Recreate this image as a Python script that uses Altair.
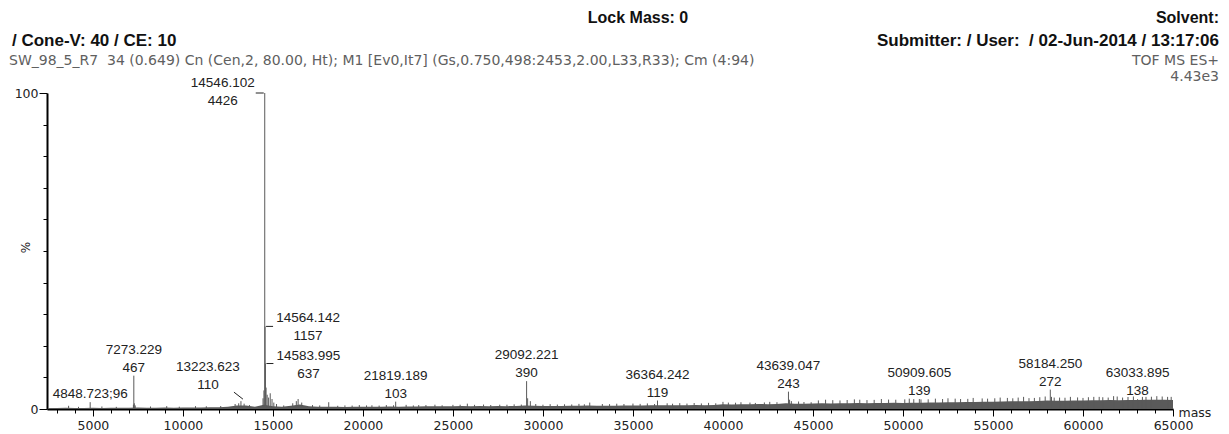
import altair as alt
import pandas as pd

BASE_PEAK = 4426  # intensity of the base peak (100 %)

# labelled peaks
peak_mass = [4848.723, 7273.229, 13223.623, 14546.102, 14564.142, 14583.995,
             21819.189, 29092.221, 36364.242, 43639.047, 50909.605, 58184.250, 63033.895]
peak_int = [96, 467, 110, 4426, 1157, 637, 103, 390, 119, 243, 139, 272, 138]

# baseline noise level, sampled every 500 Da from 2500 to 65000 (counts)
noise_mass = list(range(2500, 65001, 500))
noise_int = [12, 14, 16, 14, 15, 17, 14, 16, 18, 17,
             20, 16, 18, 20, 19, 21, 22, 20, 24, 26,
             32, 50, 48, 30, 60, 40, 30, 45, 62, 38,
             32, 30, 33, 29, 31, 30, 32, 31, 34, 33,
             34, 36, 38, 37, 40, 38, 42, 40, 41, 39,
             42, 40, 43, 50, 44, 41, 43, 42, 44, 46,
             48, 45, 47, 46, 49, 48, 50, 52, 54, 51,
             53, 52, 55, 54, 56, 66, 64, 67, 66, 69,
             68, 70, 80, 74, 74, 77, 79, 76, 80, 79,
             83, 82, 84, 83, 86, 85, 89, 88, 91, 92,
             96, 94, 97, 98, 101, 103, 106, 108, 110, 109,
             113, 118, 115, 116, 119, 120, 121, 122, 125, 124,
             126, 127, 128, 131, 130, 127]

# small unlabelled spikes above the noise (counts)
spike_mass = [3650, 4200, 5500, 6300, 7250, 7300, 7350, 8200, 9100, 9800,
              10700, 11300, 12100, 12900, 13100, 13400, 13700, 14450, 14500, 14620,
              14680, 14760, 14850, 14950, 15050, 15200, 15600, 16100, 16300, 16400,
              16600, 17200, 17600, 18100, 18600, 19000, 19400, 19800, 20200, 20500,
              20900, 21300, 21700, 22400, 22800, 23100, 23500, 24000, 24400, 25000,
              25400, 25800, 26200, 26700, 27100, 27600, 28000, 28400, 28800, 29150,
              29300, 29600, 30000, 30400, 30800, 31200, 31600, 32000, 32300, 32600,
              33300, 33700, 34100, 34500, 35000, 35400, 35800, 36200, 36900, 37200,
              37600, 38000, 38400, 38800, 39200, 39600, 40000, 40300, 40700, 41000,
              41500, 41800, 42300, 42600, 43000, 43700, 43800, 44200, 44500, 44900,
              45300, 45700, 46100, 46500, 46900, 47300, 47600, 48000, 48400, 48800,
              49200, 49600, 50100, 50350, 50600, 51000, 51400, 51800, 52200, 52500,
              52900, 53200, 53600, 53900, 54400, 54700, 55100, 55400, 55800, 56100,
              56400, 56700, 57000, 57300, 57600, 57900, 58250, 58400, 58700, 59000,
              59300, 59700, 60000, 60300, 60600, 60900, 61100, 61400, 61700, 61900,
              62200, 62500, 62800, 63300, 63500, 63800, 64100, 64400, 64700, 64900]
spike_int = [45, 30, 35, 30, 60, 80, 50, 35, 40, 32,
             40, 38, 42, 70, 80, 75, 55, 150, 260, 300,
             200, 160, 220, 140, 90, 70, 50, 80, 110, 140,
             90, 55, 50, 95, 45, 50, 48, 55, 50, 52,
             48, 55, 52, 58, 50, 55, 55, 60, 52, 58,
             60, 75, 58, 62, 56, 60, 60, 65, 62, 150,
             110, 70, 60, 68, 62, 66, 64, 72, 66, 90,
             70, 68, 74, 70, 76, 72, 78, 70, 80, 74,
             82, 76, 84, 78, 86, 80, 100, 90, 88, 95,
             90, 85, 92, 100, 95, 130, 110, 105, 98, 95,
             120, 130, 124, 120, 126, 135, 130, 125, 128, 140,
             132, 130, 135, 145, 138, 135, 136, 145, 140, 150,
             145, 140, 142, 155, 148, 145, 150, 160, 155, 150,
             160, 170, 152, 155, 165, 175, 170, 160, 160, 158,
             170, 162, 155, 165, 170, 170, 165, 160, 180, 175,
             160, 168, 175, 170, 170, 172, 180, 175, 170, 170]

FONT = "Liberation Sans"
AXFONT = "DejaVu Sans"
GREY = "#5a5a5a"

def pct(vals):
    return [v / BASE_PEAK * 100 for v in vals]

noise_df = pd.DataFrame({"mass": noise_mass, "pct": pct(noise_int)})
spike_df = pd.DataFrame({"mass": spike_mass, "pct": pct(spike_int)})
peak_df = pd.DataFrame({"mass": peak_mass, "inten": peak_int, "pct": pct(peak_int)})
peak_df["label"] = [f"{m:.3f}\n{i}" for m, i in zip(peak_mass, peak_int)]
peak_df.loc[peak_df["mass"] == 4848.723, "label"] = "4848.723;96"

x_ticks = list(range(3000, 65001, 1000))
y_ticks = list(range(0, 101, 10))

x_enc = alt.X(
    "mass:Q",
    scale=alt.Scale(domain=[2450, 65000], nice=False, zero=False),
    axis=alt.Axis(
        values=x_ticks, format="d", labelFlush=False, labelOverlap=False,
        labelExpr="datum.value % 5000 == 0 ? datum.label : ''",
        tickSize={"condition": {"test": "datum.value % 5000 == 0", "value": 7}, "value": 4},
        tickColor="black", domainColor="black", domainWidth=2,
        labelFont=AXFONT, labelFontSize=12.5, labelColor="#222", labelPadding=3,
        title="mass", titleFont=AXFONT, titleFontSize=12.5, titleFontWeight="normal",
        titleColor="#222", titleX=1131, titleY=3, titleAlign="left",
        titleBaseline="middle", titleAngle=0, grid=False,
    ),
)
y_enc = alt.Y(
    "pct:Q",
    scale=alt.Scale(domain=[0, 100], nice=False),
    axis=alt.Axis(
        values=y_ticks, labelExpr="datum.value == 0 || datum.value == 100 ? datum.label : ''",
        tickSize={"condition": {"test": "datum.value == 0 || datum.value == 100", "value": 8}, "value": 4},
        tickColor="black", domainColor="black", domainWidth=2, labelOverlap=False,
        labelFont=AXFONT, labelFontSize=12.5, labelColor="#222", labelPadding=1,
        title="%", titleFont=AXFONT, titleFontSize=12, titleFontWeight="normal",
        titleColor="#222", titleX=-22, titleY=154, titleAngle=270, titleAlign="center",
        titleBaseline="middle", grid=False,
    ),
)

noise = alt.Chart(noise_df).mark_area(color=GREY, interpolate="linear").encode(x=x_enc, y=y_enc)
spikes = alt.Chart(spike_df).mark_rule(color=GREY, strokeWidth=1).encode(
    x=x_enc, y=y_enc, y2=alt.datum(0))
peaks = alt.Chart(peak_df).mark_rule(color=GREY, strokeWidth=1).encode(
    x=x_enc, y=y_enc, y2=alt.datum(0))

lab_common = dict(font=FONT, fontSize=13.5, color="#222", lineBreak="\n", lineHeight=18)

two_line_set = [7273.229, 21819.189, 29092.221, 36364.242, 43639.047,
                50909.605, 58184.250, 63033.895]
centre_labels = alt.Chart(peak_df[peak_df["mass"].isin(two_line_set)]).mark_text(
    align="center", baseline="bottom", dy=-19, **lab_common
).encode(x=x_enc, y=y_enc, text="label:N")
single_label = alt.Chart(peak_df[peak_df["mass"] == 4848.723]).mark_text(
    align="center", baseline="bottom", dy=-1, **lab_common
).encode(x=x_enc, y=y_enc, text="label:N")

main_df = peak_df[peak_df["mass"] == 14546.102]
main_label = alt.Chart(main_df).mark_text(
    align="center", baseline="middle", dx=-42, dy=-10, **lab_common
).encode(x=x_enc, y=y_enc, text="label:N")
main_leader = alt.Chart(main_df).mark_rule(color="#222", strokeWidth=1, xOffset=-9, x2Offset=-1).encode(
    x=x_enc, x2="mass:Q", y=y_enc, y2="pct:Q")

right_df = peak_df[peak_df["mass"].isin([14564.142, 14583.995])]
right_labels = alt.Chart(right_df).mark_text(
    align="center", baseline="middle", dx=43, dy=-8, **lab_common
).encode(x=x_enc, y=y_enc, text="label:N")
right_leaders = alt.Chart(right_df).mark_rule(color="#222", strokeWidth=1, xOffset=1, x2Offset=8).encode(
    x=x_enc, x2="mass:Q", y=y_enc, y2="pct:Q")

left_df = peak_df[peak_df["mass"] == 13223.623]
left_label = alt.Chart(left_df).mark_text(
    align="center", baseline="bottom", dx=-33, dy=-27, **lab_common
).encode(x=x_enc, y=y_enc, text="label:N")
left_leader = alt.Chart(left_df).mark_rule(
    color="#222", strokeWidth=1, xOffset=-7, x2Offset=2, yOffset=-9, y2Offset=-2
).encode(x=x_enc, x2="mass:Q", y=y_enc, y2="pct:Q")


def header(text, x, y, align, bold=True, size=17, color="#111", font=FONT):
    return alt.Chart(pd.DataFrame({"t": [text]})).mark_text(
        align=align, baseline="middle", font=font, fontSize=size,
        fontWeight="bold" if bold else "normal", color=color,
    ).encode(text="t:N", x=alt.value(x), y=alt.value(y))


NB = "\u00a0"
headers = [
    header("Lock Mass: 0", 591, -75, "center", size=16),
    header("Solvent:", 1172, -75, "right", size=16),
    header("/ Cone-V: 40 / CE: 10", -35, -52, "left"),
    header(f"Submitter: / User: {NB}/ 02-Jun-2014 / 13:17:06", 1172, -52, "right"),
    header(f"SW_98_5_R7 {NB}34 (0.649) Cn (Cen,2, 80.00, Ht); M1 [Ev0,It7] (Gs,0.750,498:2453,2.00,L33,R33); Cm (4:94)",
           -38, -32, "left", bold=False, size=14, color="#606060", font=AXFONT),
    header("TOF MS ES+", 1172, -32, "right", bold=False, size=14, color="#606060", font=AXFONT),
    header("4.43e3", 1172, -16, "right", bold=False, size=14, color="#606060", font=AXFONT),
]

chart = alt.layer(
    noise, spikes, peaks,
    centre_labels, single_label, main_label, main_leader, right_labels, right_leaders,
    left_label, left_leader,
    *headers,
).properties(
    width=1126, height=316,
    autosize=alt.AutoSizeParams(type="none"),
    padding={"left": 39, "top": 85, "right": 48, "bottom": 27},
    background="white",
).configure_view(strokeWidth=0)

chart.save("out.html", embed_options={"renderer": "svg", "actions": False})
